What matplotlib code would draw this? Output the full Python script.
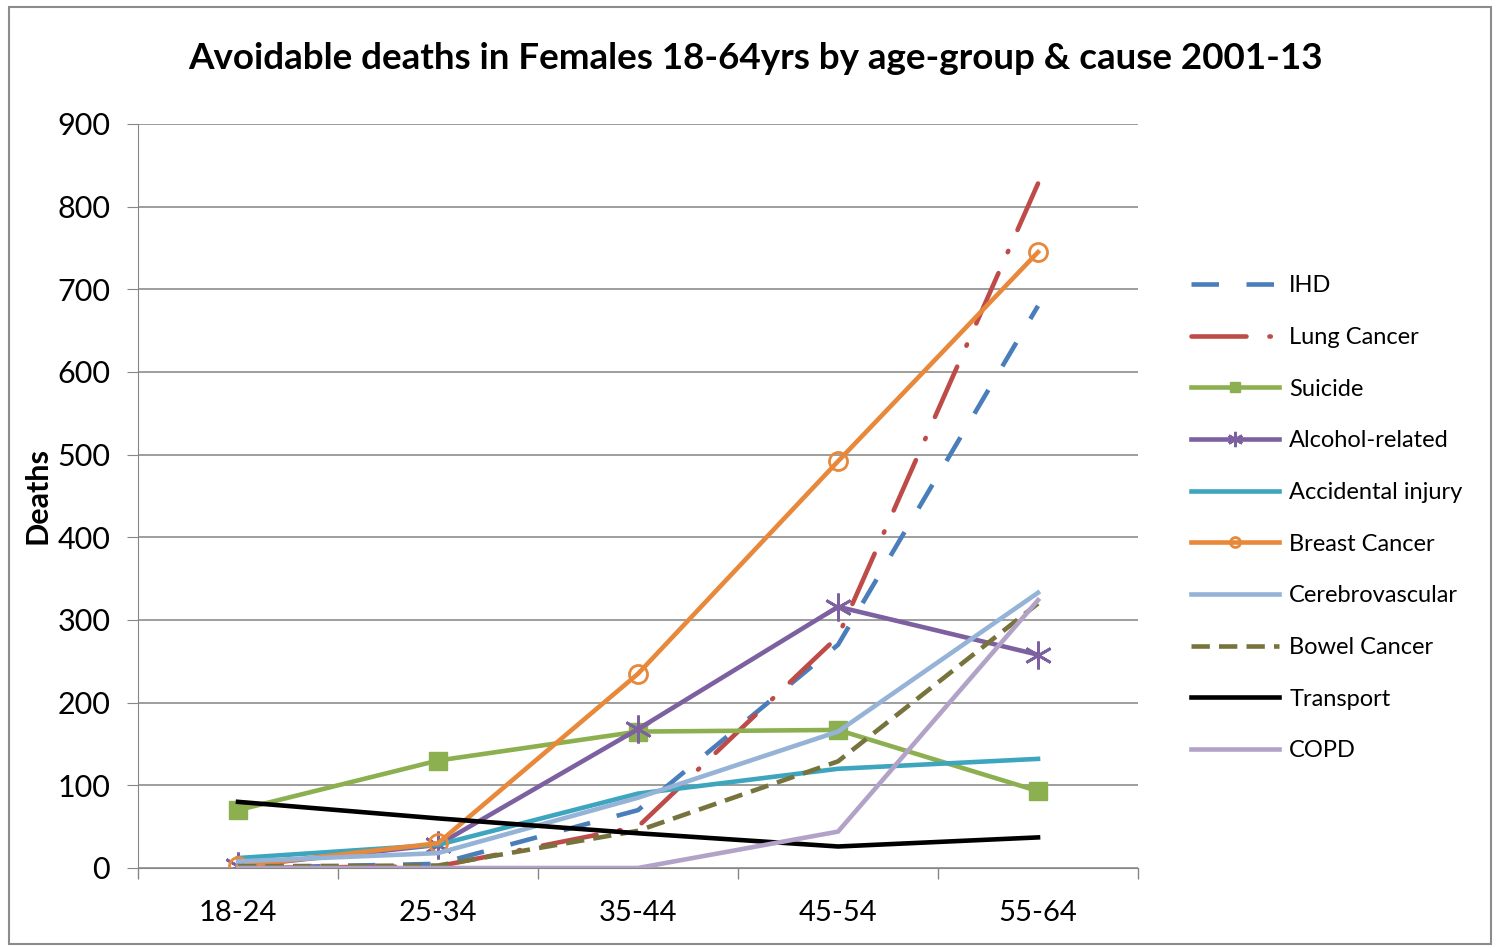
import numpy as np
import matplotlib
matplotlib.use('Agg')
import matplotlib.pyplot as plt
from matplotlib.patches import Rectangle

plt.rcParams['font.family'] = ['Lato', 'DejaVu Sans']

# datos
edades = ['18-24', '25-34', '35-44', '45-54', '55-64']
ihd = [0, 5, 70, 270, 680]
pulmon = [0, 2, 50, 280, 828]
suicidio = [70, 130, 165, 167, 93]
alcohol = [2, 28, 168, 316, 258]
accidentes = [12, 28, 90, 120, 132]
mama = [2, 30, 235, 492, 745]
cerebro = [8, 18, 85, 165, 333]
intestino = [2, 3, 45, 129, 320]
transporte = [80, 60, 42, 26, 37]
epoc = [0, 0, 0, 44, 324]

fig = plt.figure(figsize=(14.97, 9.48), dpi=100)
ax = fig.add_axes([0.0922, 0.0844, 0.668, 0.7848])
x = np.arange(len(edades))
lw = 3.3

ax.plot(x, ihd, color='#4A7EBB', lw=lw, dashes=(6, 6), label='IHD')
ax.plot(x, pulmon, color='#BE4B48', lw=lw, dashes=(12, 5, 0.3, 5), dash_capstyle='round', label='Lung Cancer')
ax.plot(x, suicidio, color='#8CB050', lw=lw, marker='s', ms=13, label='Suicide')
ax.plot(x, alcohol, color='#7D60A0', lw=lw, marker=(6, 2, 0), ms=20, mew=2, label='Alcohol-related')
ax.plot(x, accidentes, color='#3DA5BE', lw=lw, label='Accidental injury')
ax.plot(x, mama, color='#E8883A', lw=lw, marker='o', ms=13, mfc='none', mew=2, label='Breast Cancer')
ax.plot(x, cerebro, color='#95B3D7', lw=lw, label='Cerebrovascular')
ax.plot(x, intestino, color='#77733C', lw=lw, dashes=(4, 2), label='Bowel Cancer')
ax.plot(x, transporte, color='black', lw=lw, label='Transport')
ax.plot(x, epoc, color='#B3A2C7', lw=lw, label='COPD')

ax.set_xlim(-0.5, 4.5)
ax.set_ylim(0, 900)
ax.set_yticks(np.arange(0, 901, 100))
ax.set_xticks(x)
ax.set_xticklabels(edades)
ax.set_xticks(np.arange(-0.5, 4.6, 1), minor=True)
ax.tick_params(axis='x', which='major', length=0, labelsize=21, pad=23)
ax.tick_params(axis='x', which='minor', length=8, color='#868686', width=1)
ax.tick_params(axis='y', length=8, color='#868686', labelsize=22, pad=12)
ax.grid(axis='y', color='#8C8C8C', lw=1.2)
ax.set_axisbelow(True)
for s in ['top', 'right']:
    ax.spines[s].set_visible(False)
ax.spines['left'].set_color('#868686')
ax.spines['bottom'].set_color('#868686')

ax.set_ylabel('Deaths', fontsize=22, fontweight='bold', labelpad=4)
fig.text(0.505, 0.938, 'Avoidable deaths in Females 18-64yrs by age-group & cause 2001-13',
         ha='center', va='center', fontsize=26.5, fontweight='bold')

leg = ax.legend(loc='center left', bbox_to_anchor=(1.032, 0.470), frameon=False, fontsize=17,
                handlelength=3.7, labelspacing=1.3, markerscale=0.55, handletextpad=0.45)

fig.patches.append(Rectangle((0.006, 0.004), 0.99, 0.989, transform=fig.transFigure,
                             fill=False, edgecolor='#8C8C8C', lw=1.5))

plt.savefig('out.png', dpi=100)
plt.close()
